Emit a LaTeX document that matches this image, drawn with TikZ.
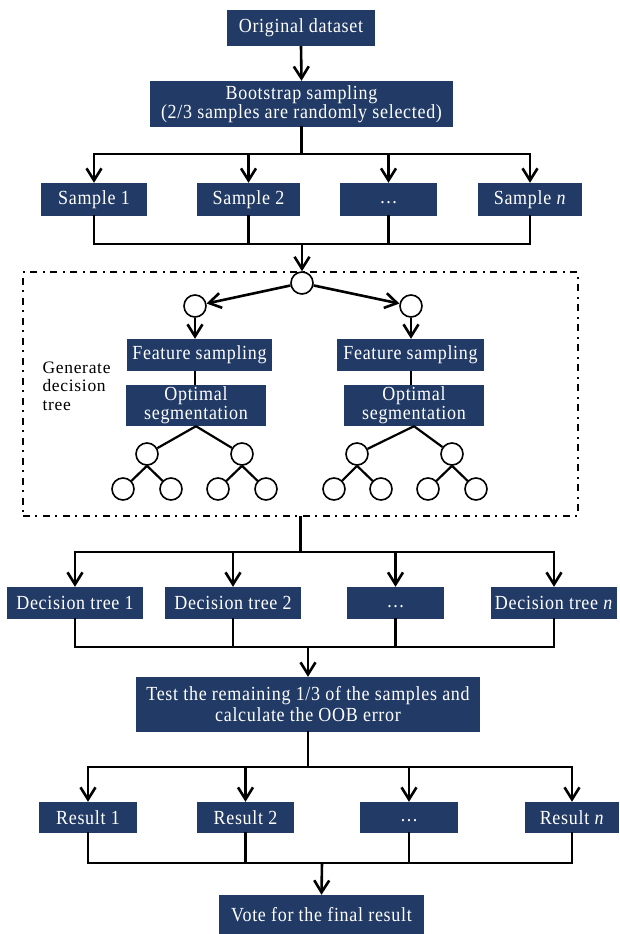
\documentclass[tikz,border=0pt]{standalone}
\usepackage{fontspec}
\setmainfont{Liberation Serif}[FakeStretch=0.9, LetterSpace=3.5]
\newfontfamily\genfont{Liberation Serif}[LetterSpace=4]
\usetikzlibrary{arrows.meta,calc}
\definecolor{navy}{RGB}{33,58,102}
\tikzset{
  box/.style={fill=navy, text=white, inner sep=0pt, align=center, font=\fontsize{20}{20}\selectfont},
  ln/.style={line width=2.6pt, line cap=rect},
  arr/.style={line width=2.6pt, -{Straight Barb[length=12pt,width=15pt]}},
  circ/.style={circle, draw, fill=white, line width=1.6pt, minimum size=22pt, inner sep=0pt},
  tl/.style={line width=2.2pt},
  frm/.style={draw, line width=2.2pt, dash pattern=on 7pt off 5pt on 2pt off 6pt, inner sep=0pt},
}
\begin{document}
\begin{tikzpicture}[x=1pt,y=-1pt]
\useasboundingbox (0,0) rectangle (619,934);

% top part
\node[box, minimum width=148pt, minimum height=36pt] (orig) at (301,28) {Original dataset};
\node[box, minimum width=303pt, minimum height=46pt, font=\fontsize{20}{19.5}\selectfont] (boot) at (301.5,104) {Bootstrap sampling\\(2/3 samples are randomly selected)};
\draw[arr] (orig.south) -- (boot.north);

\node[box, minimum width=106pt, minimum height=33pt] (s1) at (94,199.5) {Sample 1};
\node[box, minimum width=103pt, minimum height=33pt] (s2) at (248.5,199.5) {Sample 2};
\node[box, minimum width=97pt, minimum height=33pt] (s3) at (388.5,199.5) {\vphantom{Sp}\dots};
\node[box, minimum width=104pt, minimum height=33pt] (sn) at (530,199.5) {Sample \textit{n}};

\coordinate (b1) at (301.5,154);
\coordinate (b2) at (302,244);
\draw[ln] (boot.south) -- (b1);
\draw[ln] (s1.north |- b1) -- (sn.north |- b1);
\foreach \n in {s1,s2,s3,sn} \draw[arr] (\n.north |- b1) -- (\n.north);
\foreach \n in {s1,s2,s3,sn} \draw[ln] (\n.south) -- (\n.south |- b2);
\draw[ln] (s1.south |- b2) -- (sn.south |- b2);

% frame
\node[frm, minimum width=555pt, minimum height=244pt] (frame) at (300.5,394) {};
\node[anchor=west, align=left, font=\genfont\fontsize{17.5}{18.5}\selectfont] (gen) at (39,386) {Generate\\decision\\tree};

\node[circ] (t0) at (302,283) {};
\draw[arr] (b2) -- (t0.north);
\node[circ] (l1) at (195,306) {};
\node[circ] (r1) at (411,306) {};
\draw[arr] (t0) -- (l1);
\draw[arr] (t0) -- (r1);

\node[box, minimum width=145pt, minimum height=32pt] (fs1) at (199.5,355) {Feature sampling};
\node[box, minimum width=147pt, minimum height=32pt] (fs2) at (410.5,355) {Feature sampling};
\node[box, minimum width=140pt, minimum height=41pt, font=\fontsize{20}{19}\selectfont] (op1) at (196,405.5) {Optimal\\segmentation};
\node[box, minimum width=140pt, minimum height=41pt, font=\fontsize{20}{19}\selectfont] (op2) at (414,405.5) {Optimal\\segmentation};
\draw[arr] (l1.south) -- (l1.south |- fs1.north);
\draw[arr] (r1.south) -- (r1.south |- fs2.north);
\draw[tl] (l1 |- fs1.south) -- (l1 |- op1.north);
\draw[tl] (r1 |- fs2.south) -- (r1 |- op2.north);

% left tree
\node[circ] (la) at (147,454) {};
\node[circ] (lb) at (242,454) {};
\node[circ] (laa) at (123,489) {};
\node[circ] (lab) at (171,489) {};
\node[circ] (lba) at (218,489) {};
\node[circ] (lbb) at (266,489) {};
\draw[tl] (op1.south) -- (la);
\draw[tl] (op1.south) -- (lb);
\draw[tl] (la.south) -- (laa);
\draw[tl] (la.south) -- (lab);
\draw[tl] (lb.south) -- (lba);
\draw[tl] (lb.south) -- (lbb);

% right tree
\node[circ] (ra) at (357,454) {};
\node[circ] (rb) at (452,454) {};
\node[circ] (raa) at (334,489) {};
\node[circ] (rab) at (381,489) {};
\node[circ] (rba) at (428,489) {};
\node[circ] (rbb) at (476,489) {};
\draw[tl] (op2.south) -- (ra);
\draw[tl] (op2.south) -- (rb);
\draw[tl] (ra.south) -- (raa);
\draw[tl] (ra.south) -- (rab);
\draw[tl] (rb.south) -- (rba);
\draw[tl] (rb.south) -- (rbb);

% decision trees
\node[box, minimum width=136pt, minimum height=32pt] (d1) at (75,603) {Decision tree 1};
\node[box, minimum width=136pt, minimum height=32pt] (d2) at (233,603) {Decision tree 2};
\node[box, minimum width=97pt, minimum height=32pt] (d3) at (395.5,603) {\vphantom{Dp}\dots};
\node[box, minimum width=126pt, minimum height=32pt] (dn) at (554,603) {Decision tree \textit{n}};

\coordinate (b3) at (300.5,552);
\coordinate (b4) at (308,647);
\draw[ln] (frame.south) -- (b3);
\draw[ln] (d1.north |- b3) -- (dn.north |- b3);
\foreach \n in {d1,d2,d3,dn} \draw[arr] (\n.north |- b3) -- (\n.north);
\foreach \n in {d1,d2,d3,dn} \draw[ln] (\n.south) -- (\n.south |- b4);
\draw[ln] (d1.south |- b4) -- (dn.south |- b4);

\node[box, minimum width=344pt, minimum height=55pt, font=\fontsize{20}{21}\selectfont] (test) at (308,704.5) {Test the remaining 1/3 of the samples and\\calculate the OOB error};
\draw[arr] (b4) -- (test.north);

% results
\node[box, minimum width=98pt, minimum height=31pt] (res1) at (88,817.5) {Result 1};
\node[box, minimum width=97pt, minimum height=31pt] (res2) at (245.5,817.5) {Result 2};
\node[box, minimum width=98pt, minimum height=31pt] (res3) at (409,817.5) {\vphantom{Rp}\dots};
\node[box, minimum width=94pt, minimum height=31pt] (resn) at (572,817.5) {Result \textit{n}};

\coordinate (b5) at (308,767);
\coordinate (b6) at (322,863);
\draw[ln] (test.south) -- (b5);
\draw[ln] (res1.north |- b5) -- (resn.north |- b5);
\foreach \n in {res1,res2,res3,resn} \draw[arr] (\n.north |- b5) -- (\n.north);
\foreach \n in {res1,res2,res3,resn} \draw[ln] (\n.south) -- (\n.south |- b6);
\draw[ln] (res1.south |- b6) -- (resn.south |- b6);

\node[box, minimum width=205pt, minimum height=39pt] (vote) at (321.5,914.5) {Vote for the final result};
\draw[arr] (b6) -- (vote.north);
\end{tikzpicture}
\end{document}
